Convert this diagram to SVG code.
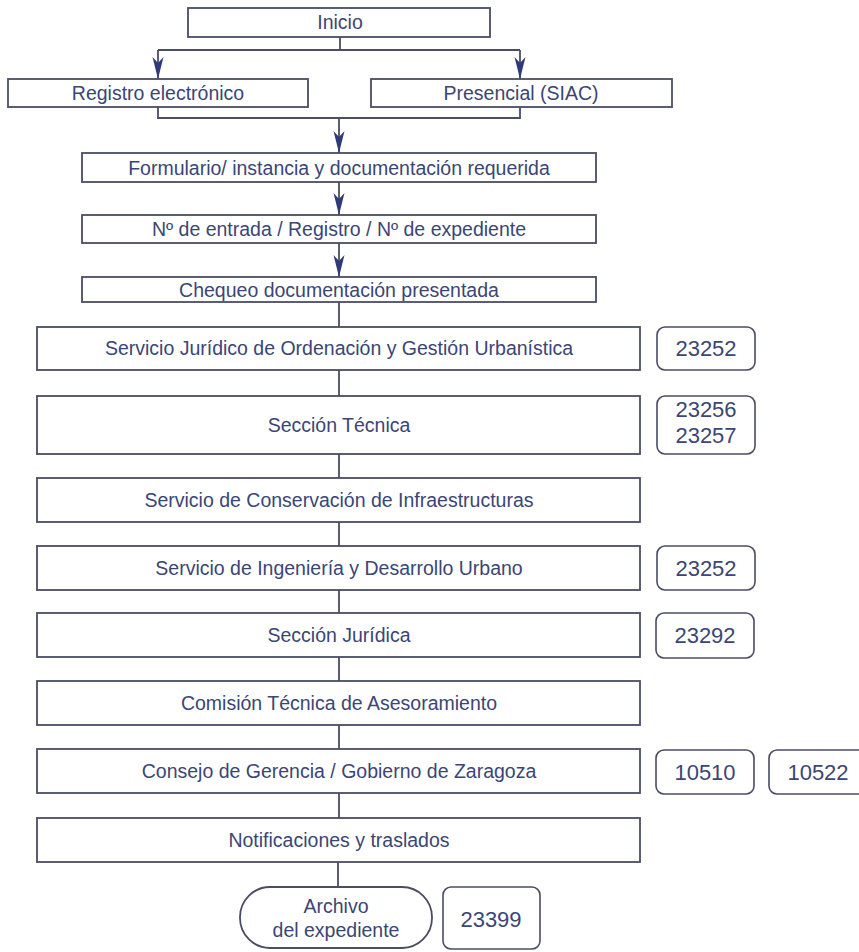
<svg xmlns="http://www.w3.org/2000/svg" width="859" height="952" viewBox="0 0 859 952">
  <style>
    .box { fill: #ffffff; stroke: #4a4d63; stroke-width: 1.8; }
    .num { fill: #ffffff; stroke: #4a4d63; stroke-width: 1.6; }
    .lbl { font-family: "Liberation Sans", Arial, sans-serif; font-size: 19.5px; fill: #3b4675; text-anchor: middle; }
    .nlbl { font-family: "Liberation Sans", Arial, sans-serif; font-size: 22px; fill: #3b4675; text-anchor: middle; }
    .wire { fill: none; stroke: #4a4d63; stroke-width: 1.8; }
    .arrow { fill: none; stroke: #4a4d63; stroke-width: 1.8; marker-end: url(#head); }
  </style>
  <defs>
    <marker id="head" markerUnits="userSpaceOnUse" markerWidth="22" markerHeight="12" refX="22" refY="6" orient="auto">
      <path d="M0,0.5 L22,6 L0,11.5 L6,6 Z" fill="#2f3a7a"/>
    </marker>
  </defs>

  <rect width="859" height="952" fill="#ffffff"/>

  <!-- connectors -->
  <g id="connectors">
    <path class="wire" d="M340,37 V50 M158,50 H520"/>
    <path class="arrow" d="M158,50 V79"/>
    <path class="arrow" d="M520,50 V79"/>
    <path class="wire" d="M158,107 V118 H520 V107"/>
    <path class="arrow" d="M339,118 V153"/>
    <path class="arrow" d="M339,182 V215"/>
    <path class="arrow" d="M339,243 V277"/>
    <path class="wire" d="M339,302 V327 M339,370 V396 M339,454 V478 M339,522 V546 M339,590 V613 M339,657 V681 M339,725 V749 M339,793 V818 M338,862 V887"/>
  </g>

  <!-- process steps -->
  <g id="inicio">
    <rect class="box" x="188" y="8" width="302" height="29"/>
    <text class="lbl" x="340" y="29">Inicio</text>
  </g>
  <g id="registro-electronico">
    <rect class="box" x="8" y="79" width="300" height="28"/>
    <text class="lbl" x="158" y="100">Registro electrónico</text>
  </g>
  <g id="presencial">
    <rect class="box" x="371" y="79" width="301" height="28"/>
    <text class="lbl" x="521" y="100">Presencial (SIAC)</text>
  </g>
  <g id="formulario">
    <rect class="box" x="82" y="153" width="514" height="29"/>
    <text class="lbl" x="339" y="175">Formulario/ instancia y documentación requerida</text>
  </g>
  <g id="entrada">
    <rect class="box" x="82" y="215" width="514" height="28"/>
    <text class="lbl" x="339" y="236">Nº de entrada / Registro / Nº de expediente</text>
  </g>
  <g id="chequeo">
    <rect class="box" x="82" y="277" width="514" height="25"/>
    <text class="lbl" x="339" y="297">Chequeo documentación presentada</text>
  </g>
  <g id="servicio-juridico">
    <rect class="box" x="37" y="327" width="603" height="43"/>
    <text class="lbl" x="339" y="355">Servicio Jurídico de Ordenación y Gestión Urbanística</text>
  </g>
  <g id="seccion-tecnica">
    <rect class="box" x="37" y="396" width="603" height="58"/>
    <text class="lbl" x="339" y="432">Sección Técnica</text>
  </g>
  <g id="servicio-conservacion">
    <rect class="box" x="37" y="478" width="603" height="44"/>
    <text class="lbl" x="339" y="507">Servicio de Conservación de Infraestructuras</text>
  </g>
  <g id="servicio-ingenieria">
    <rect class="box" x="37" y="546" width="603" height="44"/>
    <text class="lbl" x="339" y="575">Servicio de Ingeniería y Desarrollo Urbano</text>
  </g>
  <g id="seccion-juridica">
    <rect class="box" x="37" y="613" width="603" height="44"/>
    <text class="lbl" x="339" y="642">Sección Jurídica</text>
  </g>
  <g id="comision-tecnica">
    <rect class="box" x="37" y="681" width="603" height="44"/>
    <text class="lbl" x="339" y="710">Comisión Técnica de Asesoramiento</text>
  </g>
  <g id="consejo-gerencia">
    <rect class="box" x="37" y="749" width="603" height="44"/>
    <text class="lbl" x="339" y="778">Consejo de Gerencia / Gobierno de Zaragoza</text>
  </g>
  <g id="notificaciones">
    <rect class="box" x="37" y="818" width="603" height="44"/>
    <text class="lbl" x="339" y="847">Notificaciones y traslados</text>
  </g>
  <g id="archivo">
    <rect class="box" x="240" y="887" width="192" height="61" rx="30" ry="30"/>
    <text class="lbl" x="336" y="913">Archivo</text>
    <text class="lbl" x="336" y="937">del expediente</text>
  </g>

  <!-- reference codes -->
  <g id="code-23252-a">
    <rect class="num" x="657" y="327" width="98" height="43" rx="8"/>
    <text class="nlbl" x="706" y="356">23252</text>
  </g>
  <g id="code-23256-23257">
    <rect class="num" x="657" y="396" width="98" height="58" rx="8"/>
    <text class="nlbl" x="706" y="417">23256</text>
    <text class="nlbl" x="706" y="443">23257</text>
  </g>
  <g id="code-23252-b">
    <rect class="num" x="657" y="546" width="98" height="44" rx="8"/>
    <text class="nlbl" x="706" y="576">23252</text>
  </g>
  <g id="code-23292">
    <rect class="num" x="656" y="613" width="98" height="45" rx="8"/>
    <text class="nlbl" x="705" y="643">23292</text>
  </g>
  <g id="code-10510">
    <rect class="num" x="656" y="750" width="98" height="44" rx="8"/>
    <text class="nlbl" x="705" y="780">10510</text>
  </g>
  <g id="code-10522">
    <rect class="num" x="769" y="750" width="98" height="44" rx="8"/>
    <text class="nlbl" x="818" y="780">10522</text>
  </g>
  <g id="code-23399">
    <rect class="num" x="443" y="887" width="97" height="62" rx="8"/>
    <text class="nlbl" x="491" y="927">23399</text>
  </g>
</svg>
